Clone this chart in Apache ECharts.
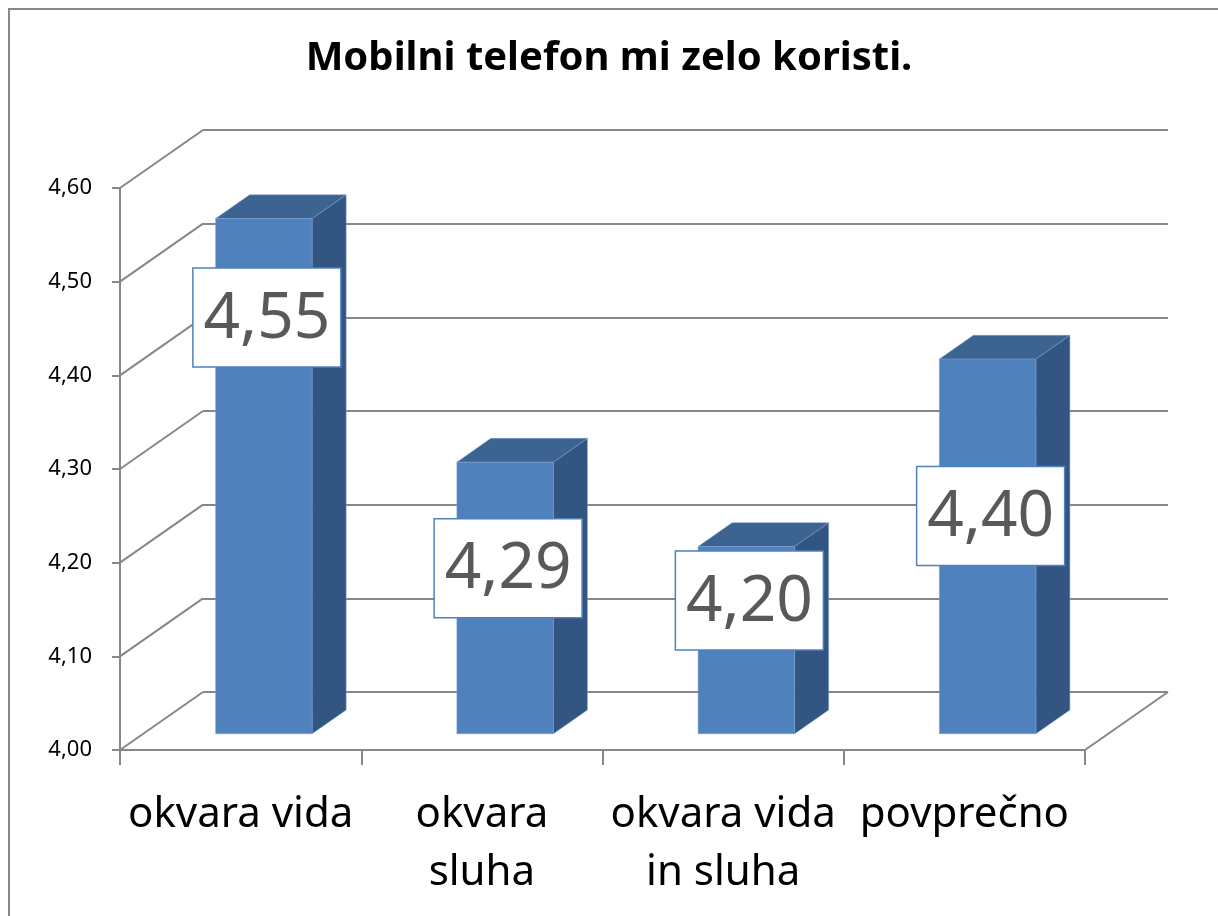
<!DOCTYPE html>
<html>
<head>
<meta charset="utf-8">
<title>Mobilni telefon mi zelo koristi.</title>
<script src="https://cdn.jsdelivr.net/npm/echarts@6/dist/echarts.min.js"></script>
<style>
  html, body { margin: 0; padding: 0; background: #fff; }
  #chart { width: 1218px; height: 916px; }
</style>
</head>
<body>
<div id="chart"></div>
<script>
// podatki
var categories = ['okvara vida', 'okvara\nsluha', 'okvara vida\nin sluha', 'povprečno'];
var values = [4.55, 4.29, 4.20, 4.40];
var yMin = 4.0, yMax = 4.6, yStep = 0.1;
var yTicks = [4.0, 4.1, 4.2, 4.3, 4.4, 4.5, 4.6];

// 3D izgled (odmik zadnje stene)
var DEPTH_X = 83, DEPTH_Y = -58;
var BAR_FRONT = 0.28, BAR_DEPTH = 0.41, BAR_WIDTH = 0.4;
var labelDrop = [99, 106, 54, 157];   // kje je okvir z vrednostjo pod vrhom stolpca
var lineColor = '#878787';

function fmt(v) {
    return v.toFixed(2).replace('.', ',');
}

// poševne črte od osi do zadnje stene
function renderWall(params, api) {
    var cs = params.coordSys;
    var y = api.coord([0, api.value(0)])[1];
    var children = [{
        type: 'line',
        shape: { x1: cs.x, y1: y, x2: cs.x + DEPTH_X, y2: y + DEPTH_Y },
        style: { stroke: lineColor, lineWidth: 2 }
    }];
    if (params.dataIndex === 0) {
        var xr = cs.x + cs.width;
        children.push({
            type: 'line',
            shape: { x1: xr, y1: y, x2: xr + DEPTH_X, y2: y + DEPTH_Y },
            style: { stroke: lineColor, lineWidth: 2 }
        });
    }
    return { type: 'group', children: children };
}

// stolpec v 3D + okvir z vrednostjo
function renderBar(params, api) {
    var i = api.value(0), v = api.value(1);
    var top = api.coord([i, v]);
    var base = api.coord([i, yMin]);
    var w = api.size([1, 0])[0] * BAR_WIDTH;
    var fx = BAR_FRONT * DEPTH_X, fy = BAR_FRONT * DEPTH_Y;
    var bx = BAR_DEPTH * DEPTH_X, by = BAR_DEPTH * DEPTH_Y;
    var x0 = top[0] + fx - w / 2, x1 = x0 + w;
    var yt = top[1] + fy, yb = base[1] + fy;
    var cx = top[0] + fx + 3, cy = yt + labelDrop[params.dataIndex];
    var edge = 'rgba(120,160,210,0.6)';
    return {
        type: 'group',
        children: [
            { type: 'polygon', shape: { points: [[x1, yt], [x1 + bx, yt + by], [x1 + bx, yb + by], [x1, yb]] },
              style: { fill: '#335581', stroke: edge, lineWidth: 0.8 } },
            { type: 'polygon', shape: { points: [[x0, yt], [x0 + bx, yt + by], [x1 + bx, yt + by], [x1, yt]] },
              style: { fill: '#3D6391', stroke: edge, lineWidth: 0.8 } },
            { type: 'rect', shape: { x: x0, y: yt, width: w, height: yb - yt },
              style: { fill: '#4F81BD', stroke: edge, lineWidth: 0.8 } },
            { type: 'rect', shape: { x: cx - 74, y: cy - 49.5, width: 148, height: 99 },
              style: { fill: '#fff', stroke: '#4F81BD', lineWidth: 1.5 } },
            { type: 'text', x: cx, y: cy + 2,
              style: { text: fmt(v), fill: '#595959', font: '64px "Noto Sans"', align: 'center', verticalAlign: 'middle' } }
        ]
    };
}

var chart = echarts.init(document.getElementById('chart'));
chart.setOption({
    backgroundColor: '#fff',
    animation: false,
    title: {
        text: 'Mobilni telefon mi zelo koristi.',
        left: 'center',
        top: 34,
        textStyle: { fontFamily: 'Noto Sans', fontWeight: 'bold', fontSize: 40, color: '#000' }
    },
    graphic: [{
        type: 'rect',
        shape: { x: 9, y: 9, width: 1240, height: 940 },
        style: { fill: 'none', stroke: lineColor, lineWidth: 2 },
        z: 0
    }],
    grid: [
        { left: 120, top: 188, width: 965, height: 562 },
        { left: 120 + DEPTH_X, top: 188 + DEPTH_Y, width: 965, height: 562 }
    ],
    xAxis: [{
        type: 'category',
        gridIndex: 0,
        data: categories,
        axisLine: { lineStyle: { color: lineColor, width: 2 } },
        axisTick: { show: true, interval: 0, alignWithLabel: false, length: 15, lineStyle: { color: lineColor, width: 2 } },
        axisLabel: { interval: 0, margin: 36, fontFamily: 'Noto Sans', fontSize: 42, lineHeight: 58, color: '#000', verticalAlign: 'top' }
    }, {
        type: 'category',
        gridIndex: 1,
        data: categories,
        show: false
    }],
    yAxis: [{
        type: 'value',
        gridIndex: 0,
        min: yMin, max: yMax, interval: yStep,
        axisLine: { show: true, lineStyle: { color: lineColor, width: 2 } },
        axisTick: { show: true, length: 8, lineStyle: { color: lineColor, width: 2 } },
        splitLine: { show: false },
        axisLabel: { margin: 28, fontFamily: 'Noto Sans', fontSize: 22, color: '#000', formatter: fmt }
    }, {
        type: 'value',
        gridIndex: 1,
        min: yMin, max: yMax, interval: yStep,
        axisLine: { show: false },
        axisTick: { show: false },
        axisLabel: { show: false },
        splitLine: { show: true, lineStyle: { color: lineColor, width: 2 } }
    }],
    series: [{
        type: 'custom',
        name: 'stena',
        xAxisIndex: 0, yAxisIndex: 0,
        data: yTicks.map(function (t) { return [t]; }),
        encode: { y: 0 },
        renderItem: renderWall,
        z: 1,
        silent: true
    }, {
        type: 'custom',
        name: 'povprečje',
        xAxisIndex: 0, yAxisIndex: 0,
        data: values.map(function (v, i) { return [i, v]; }),
        encode: { x: 0, y: 1 },
        renderItem: renderBar,
        z: 3
    }]
});
</script>
</body>
</html>
